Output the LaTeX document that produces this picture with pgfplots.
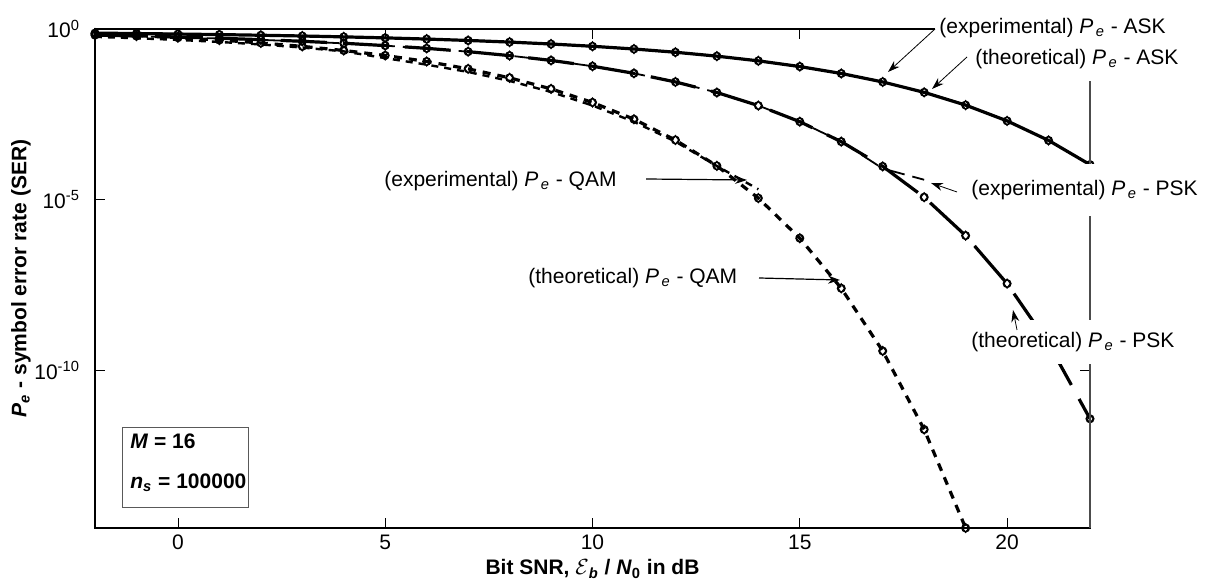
\documentclass[border=0pt]{standalone}
\usepackage{pgfplots}
\usepackage{pgfplotstable}
\pgfplotsset{compat=1.18}
\usepackage{fontspec}
\setmainfont{Liberation Sans}
\usetikzlibrary{arrows.meta}
\newcommand{\Pe}{\textit{P}\textsubscript{\,\textit{e}}}

\pgfplotstableread{
x y
-2 0.757
-1 0.7356
0 0.7116
1 0.685
2 0.6557
3 0.6233
4 0.5876
5 0.5488
6 0.5066
7 0.4614
8 0.4134
9 0.3630
10 0.3113
11 0.2591
12 0.2081
13 0.1599
14 0.1164
15 0.0792
16 0.0496
17 0.0280
18 0.01389
19 0.005863
20 0.002021
21 5.41e-4
22 1.054e-4
}\askth
\pgfplotstableread{
x y
-2 0.661
-1 0.623
0 0.581
1 0.536
2 0.487
3 0.436
4 0.382
5 0.326
6 0.271
7 0.2167
8 0.1657
9 0.1199
10 0.0810
11 0.0502
12 0.02804
13 0.01371
14 0.005682
15 1.916e-3
16 4.98e-4
17 9.37e-5
18 1.17e-5
19 8.75e-7
20 3.43e-8
21 5.96e-10
22 3.73e-12
}\pskth
\pgfplotstableread{
x y
-2 0.716
-1 0.638
0 0.5565
1 0.4734
2 0.3903
3 0.3096
4 0.2343
5 0.1677
6 0.1115
7 0.0679
8 0.0370
9 0.01755
10 0.00702
11 2.26e-3
12 5.55e-4
13 9.69e-5
14 1.10e-5
15 7.35e-7
16 2.50e-8
17 3.63e-10
18 1.81e-12
19 2.34e-15
}\qamth
\pgfplotstableread{
x y
-2 0.756
-1 0.736
0 0.712
1 0.684
2 0.656
3 0.623
4 0.588
5 0.549
6 0.507
7 0.461
8 0.413
9 0.363
10 0.311
11 0.259
12 0.208
13 0.160
14 0.1163
15 0.0793
16 0.0497
17 0.0279
18 0.0139
19 0.00587
20 0.00203
21 5.4e-4
22 1.06e-4
}\askex
\pgfplotstableread{
x y
-2 0.64
-1 0.606
0 0.568
1 0.526
2 0.480
3 0.431
4 0.379
5 0.324
6 0.270
7 0.2162
8 0.1654
9 0.1197
10 0.0809
11 0.0501
12 0.0280
13 0.01370
14 0.00568
15 0.00192
16 4.97e-4
17 8.1e-5
18 3.8e-5
}\pskex
\pgfplotstableread{
x y
-2 0.588
-1 0.536
0 0.479
1 0.417
2 0.352
3 0.2856
4 0.2206
5 0.140
6 0.090
7 0.055
8 0.030
9 0.0143
10 0.0057
11 1.9e-3
12 5.0e-4
13 9.6e-5
14 2.0e-5
}\qamex

\begin{document}
\begin{tikzpicture}
\useasboundingbox (-47.5pt,-27.5pt) rectangle (555pt,264pt);
\begin{axis}[
  at={(0,0)}, anchor=south west,
  scale only axis, width=497.5pt, height=249.5pt,
  ymode=log, xmin=-2, xmax=22, ymin=2.34e-15, ymax=1,
  xtick={0,5,10,15,20},
  ytick={1e-10,1e-5,1},
  yticklabels={10\textsuperscript{-10},10\textsuperscript{-5},10\textsuperscript{0}},
  yminorticks=false,
  tick align=inside, major tick length=5pt,
  tick style={black, line width=0.4pt},
  axis line style={line width=0.6pt},
  clip=false,
  ticklabel style={font=\fontsize{10.5}{12}\selectfont},
  yticklabel style={xshift=-4pt},
  /pgf/number format/assume math mode=true,
]
% theoretical
\addplot[black, line width=1.6pt, mark=o, mark size=1.9pt, mark options={solid, line width=0.7pt}] table {\askth};
\addplot[black, line width=1.6pt, dash pattern=on 23pt off 8pt, mark=o, mark size=1.9pt, mark options={solid, line width=0.7pt}] table {\pskth};
\addplot[black, line width=1.6pt, dash pattern=on 4pt off 3.5pt, mark=o, mark size=1.9pt, mark options={solid, line width=0.7pt}] table {\qamth};
\addplot[black, only marks, mark=diamond, mark size=2.2pt, mark options={line width=0.6pt}] table {\askth};
\addplot[black, only marks, mark=diamond, mark size=2.2pt, mark options={line width=0.6pt}] table {\pskth};
\addplot[black, only marks, mark=diamond, mark size=2.2pt, mark options={line width=0.6pt}] table {\qamth};
% experimental
\addplot[black, line width=0.9pt] table {\askex};
\addplot[black, line width=0.9pt, dash pattern=on 10pt off 4pt] table {\pskex};
\addplot[black, line width=1.2pt, dash pattern=on 3.5pt off 3pt] table {\qamex};
\end{axis}
\draw[gray!60!black, line width=0.7pt] (497.5pt,0pt) -- (497.5pt,249.5pt);

\begin{scope}[font=\fontsize{10.5}{12}\selectfont, >={Stealth[length=6pt,width=4pt]}]
% ASK annotations
\node[fill=white, anchor=west, inner xsep=2pt, inner ysep=5pt] at (420pt,250pt) {(experimental) \Pe\ - ASK};
\draw[->, line width=0.4pt] (420pt,249.5pt) -- (396.5pt,228pt);
\node[fill=white, anchor=west, inner xsep=2pt, inner ysep=6pt] at (438pt,234.5pt) {(theoretical) \Pe\ - ASK};
\draw[->, line width=0.4pt] (436pt,235.5pt) -- (418.5pt,219.5pt);
% PSK
\node[fill=white, anchor=west, inner xsep=2pt, inner ysep=8pt] at (436pt,169pt) {(experimental) \Pe\ - PSK};
\draw[->, line width=0.4pt] (431pt,168pt) -- (418pt,172.5pt);
\node[fill=white, anchor=west, inner xsep=2pt, inner ysep=6pt] at (436pt,93pt) {(theoretical) \Pe\ - PSK};
\draw[->, line width=0.4pt] (461pt,99pt) -- (459pt,109pt);
% QAM
\node[anchor=west, inner sep=0pt] at (144.5pt,173.5pt) {(experimental) \Pe\ - QAM};
\draw[->, line width=0.6pt] (275.5pt,174.5pt) -- (326pt,174pt);
\node[anchor=west, inner sep=0pt] at (216.5pt,125pt) {(theoretical) \Pe\ - QAM};
\draw[->, line width=0.6pt] (332pt,125pt) -- (372.5pt,124pt);
\end{scope}

% parameter box
\draw[gray!70!black, line width=0.5pt, fill=white] (13.5pt,10pt) rectangle (76.5pt,50pt);
\node[anchor=west, inner sep=0pt, font=\bfseries\fontsize{10.5}{12}\selectfont] at (17.5pt,43.5pt) {\textit{M} = 16};
\node[anchor=west, inner sep=0pt, font=\bfseries\fontsize{10.5}{12}\selectfont] at (17.5pt,22.5pt) {\textit{n}\textsubscript{\textit{s}} = 100000};

% axis labels
\node[rotate=90, anchor=center, font=\bfseries\fontsize{10.5}{12}\selectfont] at (-37pt,124.75pt) {\textit{P}\textsubscript{\textit{e}} - symbol error rate (SER)};
\node[anchor=base, font=\bfseries\fontsize{10.5}{12}\selectfont] at (248.75pt,-23.5pt) {Bit SNR, $\mathcal{E}$\textsubscript{\textit{b}} / \textit{N}\textsubscript{0} in dB};
\end{tikzpicture}
\end{document}
